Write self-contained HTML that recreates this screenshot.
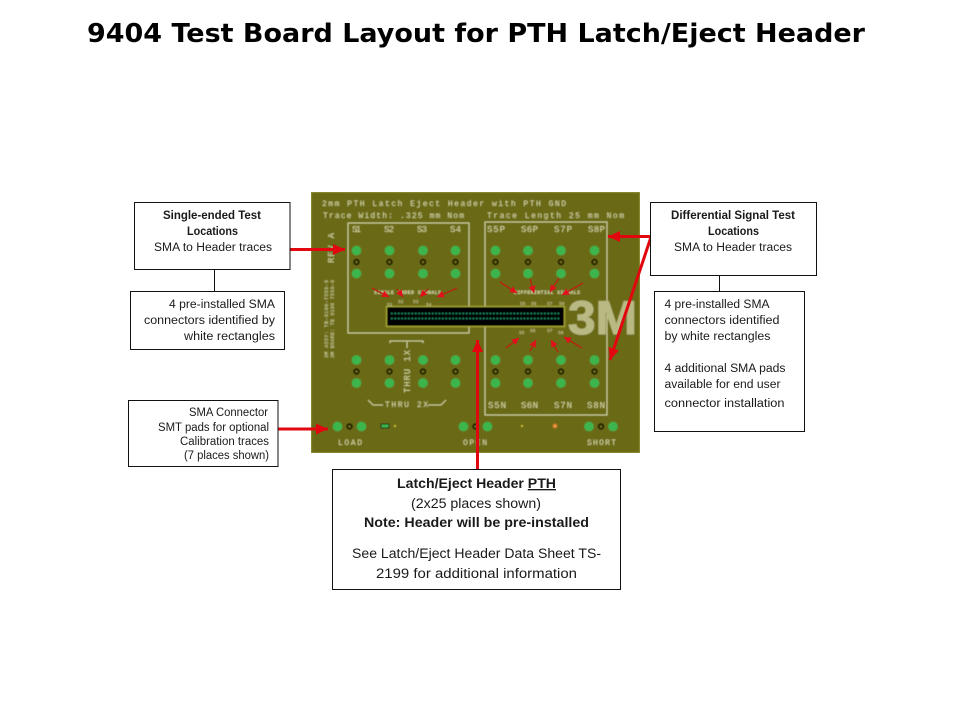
<!DOCTYPE html>
<html>
<head>
<meta charset="utf-8">
<title>9404 Test Board Layout for PTH Latch/Eject Header</title>
<style>
html,body{margin:0;padding:0;background:#fff;width:960px;height:720px;overflow:hidden}
svg{display:block}
.t{font-family:"Liberation Sans",sans-serif;font-size:11.500px;fill:#1a1a1a}
.b{font-weight:bold}
.bt{font-family:"Liberation Mono",monospace;fill:#dcdca8}
.box{fill:#fff;stroke:#111;stroke-width:1}
.sl{fill:none;stroke:#cfcf9c;stroke-width:1.100}
</style>
</head>
<body>
<svg width="960" height="720" viewBox="0 0 960 720" xmlns="http://www.w3.org/2000/svg">
<defs>
<marker id="big" markerUnits="userSpaceOnUse" markerWidth="13" markerHeight="12" refX="12" refY="5.500" orient="auto"><path d="M0 0L12 5.500L0 11Z" fill="#e2060f"/></marker>
<marker id="sm" markerUnits="userSpaceOnUse" markerWidth="8" markerHeight="8" refX="7" refY="3.500" orient="auto"><path d="M0 0L7 3.500L0 7Z" fill="#e2101a"/></marker>
<filter id="soft" x="0" y="0" width="100%" height="100%"><feGaussianBlur stdDeviation="0.500"/></filter>
<g id="pad"><circle cx="0" cy="0" r="4.800" fill="#3cb54e"/><circle cx="0" cy="11.500" r="2.400" fill="#6b6a12" stroke="#0a0a00" stroke-width="1.700"/><circle cx="0" cy="23" r="4.800" fill="#3cb54e"/></g>
<g id="cal"><circle cx="0" cy="0" r="4.800" fill="#3cb54e"/><circle cx="12" cy="0" r="2.400" fill="#6b6a12" stroke="#0a0a00" stroke-width="1.700"/><circle cx="24" cy="0" r="4.800" fill="#3cb54e"/></g>
</defs>

<text x="87" y="42" font-family="'DejaVu Sans',sans-serif" font-weight="bold" font-size="26" fill="#000" textLength="778" lengthAdjust="spacingAndGlyphs">9404 Test Board Layout for PTH Latch/Eject Header</text>

<g filter="url(#soft)">
<rect x="311" y="192" width="329" height="261" fill="#6b6a12" stroke="#8f8f30" stroke-width="1.500"/>
<text class="bt" x="322" y="206" font-size="8" textLength="244">2mm PTH Latch Eject Header with PTH GND</text>
<text class="bt" x="323" y="218" font-size="8" textLength="141">Trace Width: .325 mm Nom</text>
<text class="bt" x="487" y="218" font-size="8" textLength="137">Trace Length 25 mm Nom</text>

<rect class="sl" x="348" y="223" width="121" height="110"/>
<rect class="sl" x="485" y="222" width="122" height="193"/>

<text x="568" y="334" font-family="'Liberation Sans',sans-serif" font-weight="bold" font-size="47" fill="#b9b984" stroke="#b9b984" stroke-width="1" textLength="69" lengthAdjust="spacingAndGlyphs">3M</text>

<rect x="386.500" y="306.500" width="178" height="20" fill="#050505" stroke="#a8a838" stroke-width="1.400"/>
<line x1="391" y1="313.500" x2="561" y2="313.500" stroke="#1f8a64" stroke-width="1.700" stroke-dasharray="1.700 1.700"/>
<line x1="391" y1="318.500" x2="561" y2="318.500" stroke="#1f8a64" stroke-width="1.700" stroke-dasharray="1.700 1.700"/>

<g class="bt" font-size="9">
<text x="352" y="232" textLength="9">S1</text><text x="384" y="232" textLength="10">S2</text><text x="417" y="232" textLength="10">S3</text><text x="450" y="232" textLength="11">S4</text>
<text x="487" y="232" textLength="18">S5P</text><text x="521" y="232" textLength="17">S6P</text><text x="554" y="232" textLength="18">S7P</text><text x="588" y="232" textLength="17">S8P</text>
<text x="488" y="408" textLength="18">S5N</text><text x="521" y="408" textLength="17">S6N</text><text x="554" y="408" textLength="18">S7N</text><text x="587" y="408" textLength="18">S8N</text>
<text x="338" y="445" font-size="8" textLength="24">LOAD</text><text x="463" y="445" font-size="8" textLength="24">OPEN</text><text x="587" y="445" font-size="8" textLength="29">SHORT</text>
<text x="385" y="407" font-size="8" textLength="43">THRU 2X</text>
</g>
<text class="bt" font-size="9" transform="translate(334,263) rotate(-90)" textLength="30">REV A</text>
<text class="bt" font-size="9" transform="translate(410,393) rotate(-90)" textLength="43">THRU 1X</text>
<text class="bt" font-size="5" transform="translate(328,358) rotate(-90)" textLength="78">3M ASSY: TB-0100-7550-9</text>
<text class="bt" font-size="5" transform="translate(334,358) rotate(-90)" textLength="78">3M BOARD: TB 0100 7550-0</text>
<text class="bt" x="374" y="294" font-size="5" font-weight="bold" textLength="67">SINGLE ENDED SIGNALS</text>
<text class="bt" x="514" y="294" font-size="5" font-weight="bold" textLength="66">DIFFERENTIAL SIGNALS</text>
<g class="bt" font-size="4.500">
<text x="387" y="306">S1</text><text x="398" y="303">S2</text><text x="413" y="303">S3</text><text x="426" y="306">S4</text>
<text x="520" y="305">S5</text><text x="531" y="305">S6</text><text x="547" y="305">S7</text><text x="559" y="305">S8</text>
<text x="519" y="334">S5</text><text x="530" y="332">S6</text><text x="547" y="332">S7</text><text x="558" y="334">S8</text>
</g>
<path class="sl" d="M390 343V341H423V343M407 341V348M368 400L373 405H383M428 405H441L446 400"/>

<use href="#pad" x="356.500" y="250.500"/><use href="#pad" x="389.500" y="250.500"/><use href="#pad" x="423" y="250.500"/><use href="#pad" x="455.500" y="250.500"/>
<use href="#pad" x="495.500" y="250.500"/><use href="#pad" x="528" y="250.500"/><use href="#pad" x="561" y="250.500"/><use href="#pad" x="594.500" y="250.500"/>
<use href="#pad" x="356.500" y="360"/><use href="#pad" x="389.500" y="360"/><use href="#pad" x="423" y="360"/><use href="#pad" x="455.500" y="360"/>
<use href="#pad" x="495.500" y="360"/><use href="#pad" x="528" y="360"/><use href="#pad" x="561" y="360"/><use href="#pad" x="594.500" y="360"/>
<use href="#cal" x="337.500" y="426.500"/><use href="#cal" x="463.500" y="426.500"/><use href="#cal" x="589" y="426.500"/>
<rect x="381" y="424" width="8" height="4" fill="#3cb54e" stroke="#111" stroke-width="1"/>
<circle cx="395" cy="426" r="1" fill="#d8d040"/><circle cx="522" cy="426" r="1" fill="#d8d040"/>
<circle cx="555" cy="426" r="2.400" fill="#d87a20"/><circle cx="555" cy="426" r="0.900" fill="#f5d080"/>
</g>

<g stroke="#b8240f" stroke-width="1.400" fill="none">
<line x1="372" y1="288" x2="389" y2="297" marker-end="url(#sm)"/>
<line x1="397" y1="289" x2="403" y2="297" marker-end="url(#sm)"/>
<line x1="428" y1="289" x2="420" y2="297" marker-end="url(#sm)"/>
<line x1="457" y1="288" x2="437" y2="297" marker-end="url(#sm)"/>
<line x1="500" y1="282" x2="517" y2="293" marker-end="url(#sm)"/>
<line x1="530" y1="279" x2="534" y2="293" marker-end="url(#sm)"/>
<line x1="559" y1="278" x2="550" y2="292" marker-end="url(#sm)"/>
<line x1="583" y1="283" x2="562" y2="295" marker-end="url(#sm)"/>
<line x1="506" y1="348" x2="519" y2="338" marker-end="url(#sm)"/>
<line x1="530" y1="351" x2="536" y2="340" marker-end="url(#sm)"/>
<line x1="558" y1="352" x2="551" y2="340" marker-end="url(#sm)"/>
<line x1="582" y1="348" x2="564" y2="337" marker-end="url(#sm)"/>
</g>

<g stroke="#e2060f" stroke-width="3" fill="none">
<line x1="290" y1="249.500" x2="345" y2="249.500" marker-end="url(#big)"/>
<line x1="651" y1="236.500" x2="608" y2="236.500" marker-end="url(#big)"/>
<line x1="651" y1="237" x2="610" y2="360" marker-end="url(#big)"/>
<line x1="278" y1="429" x2="328" y2="429" marker-end="url(#big)"/>
<line x1="477.500" y1="469" x2="477.500" y2="340" marker-end="url(#big)"/>
</g>

<path d="M214.500 269V291M719.500 275V291" stroke="#111" stroke-width="1" fill="none"/>

<rect class="box" x="134.500" y="202.500" width="155.500" height="67"/>
<text class="t b" x="163" y="219" textLength="98" lengthAdjust="spacingAndGlyphs">Single-ended Test</text>
<text class="t b" x="187" y="235" textLength="51" lengthAdjust="spacingAndGlyphs">Locations</text>
<text class="t" x="154" y="251" textLength="118" lengthAdjust="spacingAndGlyphs">SMA to Header traces</text>

<rect class="box" x="130.500" y="291.500" width="154" height="58"/>
<text class="t" x="169" y="308" textLength="106" lengthAdjust="spacingAndGlyphs">4 pre-installed SMA</text>
<text class="t" x="144" y="324" textLength="131" lengthAdjust="spacingAndGlyphs">connectors identified by</text>
<text class="t" x="184" y="340" textLength="91" lengthAdjust="spacingAndGlyphs">white rectangles</text>

<rect class="box" x="128.500" y="400.500" width="149.500" height="66"/>
<text class="t" x="189" y="416" textLength="79" lengthAdjust="spacingAndGlyphs">SMA Connector</text>
<text class="t" x="158" y="431" textLength="111" lengthAdjust="spacingAndGlyphs">SMT pads for optional</text>
<text class="t" x="180" y="445" textLength="89" lengthAdjust="spacingAndGlyphs">Calibration traces</text>
<text class="t" x="184" y="459" textLength="85" lengthAdjust="spacingAndGlyphs">(7 places shown)</text>

<rect class="box" x="650.500" y="202.500" width="166" height="73"/>
<text class="t b" x="671" y="219" textLength="124" lengthAdjust="spacingAndGlyphs">Differential Signal Test</text>
<text class="t b" x="708" y="235" textLength="51" lengthAdjust="spacingAndGlyphs">Locations</text>
<text class="t" x="674" y="251" textLength="118" lengthAdjust="spacingAndGlyphs">SMA to Header traces</text>

<rect class="box" x="654.500" y="291.500" width="150" height="140"/>
<text class="t" x="664.500" y="308" textLength="105" lengthAdjust="spacingAndGlyphs">4 pre-installed SMA</text>
<text class="t" x="664.500" y="324" textLength="115" lengthAdjust="spacingAndGlyphs">connectors identified</text>
<text class="t" x="664.500" y="340" textLength="106" lengthAdjust="spacingAndGlyphs">by white rectangles</text>
<text class="t" x="664.500" y="372" textLength="121" lengthAdjust="spacingAndGlyphs">4 additional SMA pads</text>
<text class="t" x="664.500" y="388" textLength="116" lengthAdjust="spacingAndGlyphs">available for end user</text>
<text class="t" x="664.500" y="407" textLength="120" lengthAdjust="spacingAndGlyphs">connector installation</text>

<rect class="box" x="332.500" y="469.500" width="288" height="120"/>
<text class="t b" style="font-size:13.500px" x="397" y="488" textLength="159" lengthAdjust="spacingAndGlyphs">Latch/Eject Header <tspan text-decoration="underline">PTH</tspan></text>
<text class="t" style="font-size:13.500px" x="411" y="508" textLength="130" lengthAdjust="spacingAndGlyphs">(2x25 places shown)</text>
<text class="t b" style="font-size:13.500px" x="364" y="527" textLength="225" lengthAdjust="spacingAndGlyphs">Note: Header will be pre-installed</text>
<text class="t" style="font-size:13.500px" x="352" y="558" textLength="249" lengthAdjust="spacingAndGlyphs">See Latch/Eject Header Data Sheet TS-</text>
<text class="t" style="font-size:13.500px" x="376" y="578" textLength="201" lengthAdjust="spacingAndGlyphs">2199 for additional information</text>
</svg>
</body>
</html>
